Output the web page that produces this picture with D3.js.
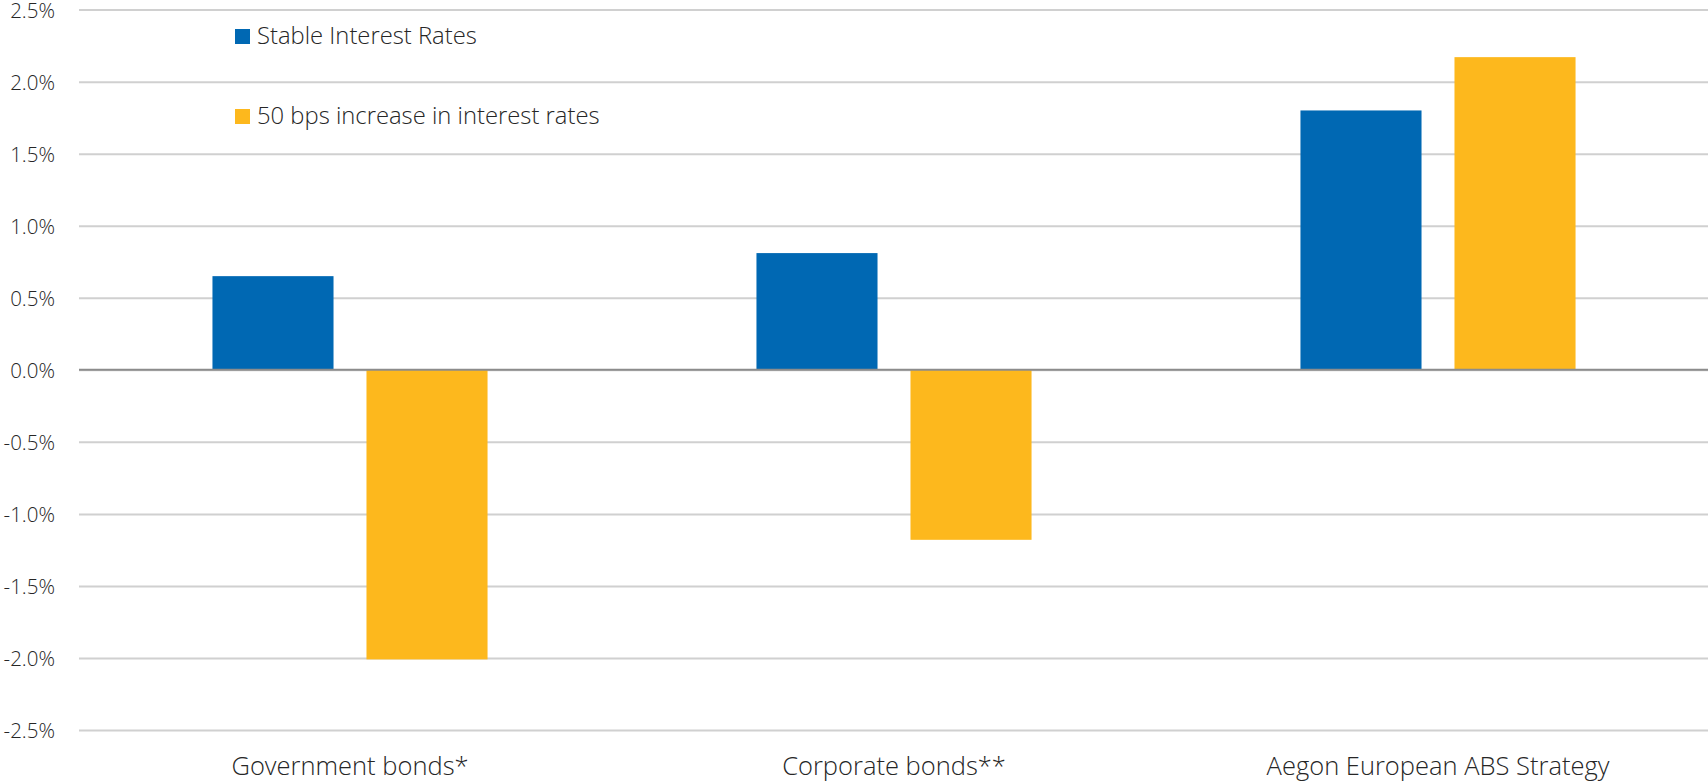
<!DOCTYPE html>
<html>
<head>
<meta charset="utf-8">
<script src="https://cdn.jsdelivr.net/npm/d3@7"></script>
<style>
  html, body { margin: 0; padding: 0; background: #fff; }
  svg { display: block; }
  text { font-family: "Open Sans", "Segoe UI", sans-serif; font-weight: 300; fill: #262626; }
</style>
</head>
<body>
<svg id="chart" width="1708" height="783"></svg>
<script>
const categories = ["Government bonds*", "Corporate bonds**", "Aegon European ABS Strategy"];
const seriesNames = ["Stable Interest Rates", "50 bps increase in interest rates"];
const stableValues = [0.65, 0.81, 1.80];
const increaseValues = [-2.01, -1.18, 2.17];
const yTicks = [-2.5, -2.0, -1.5, -1.0, -0.5, 0.0, 0.5, 1.0, 1.5, 2.0, 2.5];
const colors = ["#0068B3", "#FDB81D"];

const svg = d3.select("#chart");

const x0 = d3.scaleBand().domain(categories).range([78, 1710]).padding(0);
const x1 = d3.scaleBand().domain(seriesNames).range([0, x0.bandwidth()])
  .paddingInner(0.214).paddingOuter(0.873);
const y = d3.scaleLinear().domain([-2.5, 2.5]).range([730, 9.6]);
const color = d3.scaleOrdinal().domain(seriesNames).range(colors);

// gridlines + y labels (ASCII hyphen as minus sign, like the reference)
const fmt = d => (d < 0 ? "-" : "") + Math.abs(d).toFixed(1) + "%";
const yAxis = d3.axisLeft(y).tickValues(yTicks)
  .tickFormat(fmt)
  .tickSize(-(1710 - 79)).tickPadding(24);
const gy = svg.append("g").attr("transform", "translate(79,0)").call(yAxis);
gy.select(".domain").remove();
gy.selectAll(".tick line").attr("stroke", "#d0d0d0").attr("stroke-width", 2);
gy.selectAll(".tick text").attr("font-size", 20.5).attr("fill", "#262626")
  .attr("font-family", "'Open Sans', sans-serif").attr("font-weight", 300)
  .attr("dy", "0.37em");

// data rows
const rows = categories.map((c, i) => ({
  category: c,
  values: [
    { series: seriesNames[0], value: stableValues[i] },
    { series: seriesNames[1], value: increaseValues[i] }
  ]
}));

const groups = svg.append("g").selectAll("g").data(rows).join("g")
  .attr("transform", d => `translate(${x0(d.category)},0)`);
groups.selectAll("rect").data(d => d.values).join("rect")
  .attr("x", d => x1(d.series))
  .attr("width", x1.bandwidth())
  .attr("y", d => y(Math.max(0, d.value)))
  .attr("height", d => Math.abs(y(d.value) - y(0)))
  .attr("fill", d => color(d.series));

// zero line
svg.append("line")
  .attr("x1", 79).attr("x2", 1710)
  .attr("y1", y(0)).attr("y2", y(0))
  .attr("stroke", "#8c8c8c").attr("stroke-width", 2);

// x labels
const xAxis = d3.axisBottom(x0).tickSize(0).tickPadding(0);
const gx = svg.append("g").attr("transform", "translate(0,757)").call(xAxis);
gx.select(".domain").remove();
gx.selectAll(".tick text").attr("font-size", 25.5).attr("fill", "#262626")
  .attr("font-family", "'Open Sans', sans-serif").attr("font-weight", 300)
  .attr("dy", "0.71em");

// legend
const legend = svg.append("g").selectAll("g").data(seriesNames).join("g")
  .attr("transform", (d, i) => `translate(235,${29 + i * 80})`);
legend.append("rect").attr("width", 15).attr("height", 15).attr("fill", d => color(d));
legend.append("text").attr("x", 22).attr("y", 15).attr("font-size", 23.8)
  .text(d => d);
</script>
</body>
</html>
